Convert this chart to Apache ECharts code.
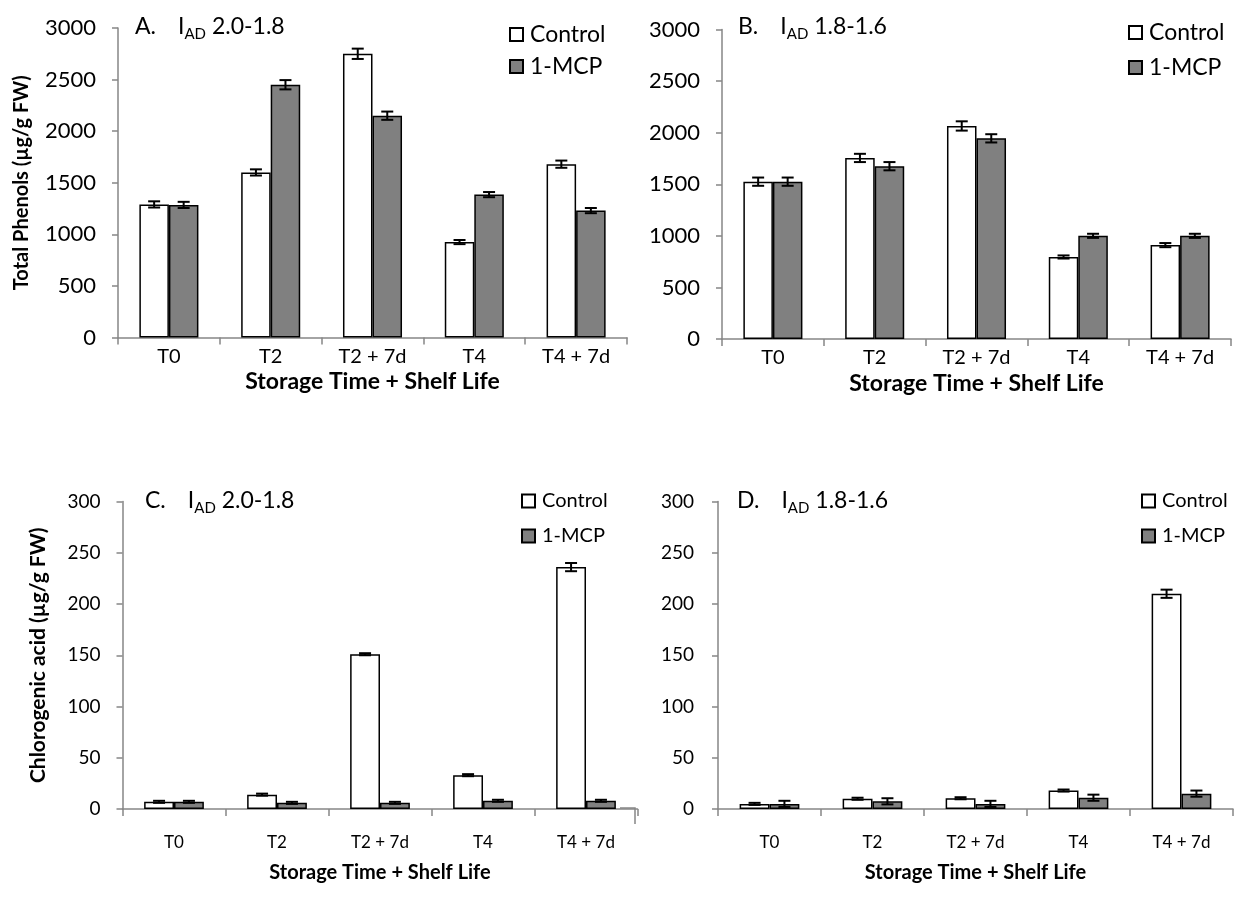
<!DOCTYPE html>
<html><head><meta charset="utf-8">
<script src="https://cdn.jsdelivr.net/npm/echarts@6/dist/echarts.min.js"></script>
<style>html,body{margin:0;padding:0;background:#fff}#c{width:1253px;height:900px}</style>
</head><body><div id="c"></div>
<script>
const categories = ['T0', 'T2', 'T2 + 7d', 'T4', 'T4 + 7d'];
const seriesNames = ['Control', '1-MCP'];

const aControl = [1290, 1600, 2750, 925, 1680];
const aControlErr = [30, 30, 50, 20, 35];
const aMcp = [1285, 2450, 2150, 1385, 1230];
const aMcpErr = [30, 45, 40, 25, 25];

const bControl = [1525, 1755, 2065, 795, 910];
const bControlErr = [40, 40, 45, 15, 20];
const bMcp = [1525, 1675, 1945, 1000, 1000];
const bMcpErr = [40, 40, 40, 20, 20];

const cControl = [7, 14, 151, 33, 236];
const cControlErr = [1, 1, 1, 1, 4];
const cMcp = [7, 6, 6, 8, 8];
const cMcpErr = [1, 1, 1, 1, 1];

const dControl = [5, 10, 10.5, 18, 210];
const dControlErr = [1, 1, 1, 1, 4];
const dMcp = [5, 7.5, 5, 11, 15];
const dMcpErr = [3, 3, 3, 3, 3];

const topTicks = [0, 500, 1000, 1500, 2000, 2500, 3000];
const bottomTicks = [0, 50, 100, 150, 200, 250, 300];

const FONT = 'Lato, "Open Sans", sans-serif';
const AXIS_COLOR = '#868686';
const CAT_GAP = 0.42;

const panels = [
  { letter: 'A.', range: '2.0-1.8', ctrl: aControl, ctrlErr: aControlErr, mcp: aMcp, mcpErr: aMcpErr, ticks: topTicks,
    grid: { left: 118, top: 28, width: 509, height: 309.5 }, yName: 'Total Phenols (\u00b5g/g FW)', yNameGap: 86, yNameSize: 20,
    labelSize: 22, catSize: 20, titleX: 135, titleY: 12, legend: { left: 509, top: 23 }, legSize: 23, legGap: 9,
    xNameSize: 23, xNameGap: 33, xLabelMargin: 9, yLabelMargin: 22 },
  { letter: 'B.', range: '1.8-1.6', ctrl: bControl, ctrlErr: bControlErr, mcp: bMcp, mcpErr: bMcpErr, ticks: topTicks,
    grid: { left: 722, top: 29.5, width: 509, height: 309.5 }, yName: '', yNameGap: 80, yNameSize: 20,
    labelSize: 22, catSize: 20, titleX: 738, titleY: 12, legend: { left: 1128, top: 21 }, legSize: 23, legGap: 12,
    xNameSize: 23, xNameGap: 33, xLabelMargin: 9, yLabelMargin: 22 },
  { letter: 'C.', range: '2.0-1.8', ctrl: cControl, ctrlErr: cControlErr, mcp: cMcp, mcpErr: cMcpErr, ticks: bottomTicks,
    grid: { left: 122.5, top: 501.5, width: 515, height: 307.5 }, yName: 'Chlorogenic acid (\u00b5g/g FW)', yNameGap: 74, yNameSize: 21,
    labelSize: 19, catSize: 17, titleX: 145, titleY: 486, legend: { left: 521, top: 491 }, legSize: 20, legGap: 15,
    xNameSize: 20, xNameGap: 54, xLabelMargin: 25, yLabelMargin: 22 },
  { letter: 'D.', range: '1.8-1.6', ctrl: dControl, ctrlErr: dControlErr, mcp: dMcp, mcpErr: dMcpErr, ticks: bottomTicks,
    grid: { left: 718, top: 501.5, width: 515, height: 307.5 }, yName: '', yNameGap: 76, yNameSize: 21,
    labelSize: 19, catSize: 17, titleX: 737, titleY: 486, legend: { left: 1141, top: 491 }, legSize: 20, legGap: 15,
    xNameSize: 20, xNameGap: 54, xLabelMargin: 25, yLabelMargin: 24 }
];

function errorSeries(idx, values, errs, side) {
  return {
    type: 'custom', xAxisIndex: idx, yAxisIndex: idx, z: 5, silent: true,
    data: values.map((v, i) => [i, v, errs[i]]),
    encode: { x: 0, y: 1 },
    renderItem: function (params, api) {
      const i = api.value(0), v = api.value(1), e = api.value(2);
      const catW = api.size([1, 0])[0];
      const barW = catW * (1 - CAT_GAP) / 2;
      const off = side * barW / 2;
      const hi = api.coord([i, v + e]);
      const lo = api.coord([i, v - e]);
      const x = hi[0] + off;
      const cap = 6;
      const style = { stroke: '#000', lineWidth: 2 };
      return { type: 'group', children: [
        { type: 'line', shape: { x1: x, y1: hi[1], x2: x, y2: lo[1] }, style: style },
        { type: 'line', shape: { x1: x - cap, y1: hi[1], x2: x + cap, y2: hi[1] }, style: style },
        { type: 'line', shape: { x1: x - cap, y1: lo[1], x2: x + cap, y2: lo[1] }, style: style }
      ]};
    }
  };
}

const option = {
  backgroundColor: '#fff',
  animation: false,
  textStyle: { fontFamily: FONT },
  title: [], legend: [], grid: [], xAxis: [], yAxis: [], series: [],
  graphic: [{ type: 'polyline', silent: true, shape: { points: [[620, 808], [635, 808], [635, 824]] },
              style: { stroke: AXIS_COLOR, lineWidth: 1.5, fill: null } }]
};

panels.forEach((p, idx) => {
  option.grid.push(Object.assign({ containLabel: false }, p.grid));
  const base = { fontFamily: FONT, color: '#000', fontWeight: 'normal' };
  option.title.push({
    text: '{a|' + p.letter + '}{b|I}{s|AD}{b| ' + p.range + '}',
    left: p.titleX, top: p.titleY, padding: 0,
    textStyle: { fontWeight: 'normal', rich: {
      a: Object.assign({ fontSize: 23, lineHeight: 30, padding: [0, 22, 0, 0] }, base),
      b: Object.assign({ fontSize: 23, lineHeight: 30 }, base),
      s: Object.assign({ fontSize: 15, lineHeight: 15, verticalAlign: 'bottom' }, base)
    } }
  });
  option.legend.push({
    orient: 'vertical', left: p.legend.left, top: p.legend.top, padding: 0,
    data: seriesNames, icon: 'rect', itemWidth: 13, itemHeight: 13, itemGap: p.legGap,
    textStyle: { fontSize: p.legSize, fontFamily: FONT, color: '#000', lineHeight: p.legSize, padding: [0, 0, 0, 2] },
    selectedMode: false
  });
  option.xAxis.push({
    type: 'category', gridIndex: idx, data: categories,
    name: 'Storage Time + Shelf Life', nameLocation: 'middle', nameGap: p.xNameGap,
    nameTextStyle: { fontSize: p.xNameSize, fontWeight: 'bold', fontFamily: FONT, color: '#000' },
    axisLine: { show: true, lineStyle: { color: AXIS_COLOR, width: 1.5 } },
    axisTick: { show: true, length: 7, lineStyle: { color: AXIS_COLOR, width: 1.5 } },
    axisLabel: { fontSize: p.catSize, fontFamily: FONT, color: '#000', margin: p.xLabelMargin, interval: 0 },
    splitLine: { show: false }
  });
  option.yAxis.push({
    type: 'value', gridIndex: idx, min: 0, max: p.ticks[p.ticks.length - 1], interval: p.ticks[1] - p.ticks[0],
    name: p.yName, nameLocation: 'middle', nameGap: p.yNameGap, nameRotate: 90,
    nameTextStyle: { fontSize: p.yNameSize, fontWeight: 'bold', fontFamily: FONT, color: '#000' },
    axisLine: { show: true, lineStyle: { color: AXIS_COLOR, width: 1.5 } },
    axisTick: { show: true, length: 6, lineStyle: { color: AXIS_COLOR, width: 1.5 } },
    axisLabel: { fontSize: p.labelSize, fontFamily: FONT, color: '#000', margin: p.yLabelMargin,
                 formatter: function (v) { return String(v); } },
    splitLine: { show: false }
  });
  option.series.push({
    name: 'Control', type: 'bar', xAxisIndex: idx, yAxisIndex: idx, data: p.ctrl,
    barGap: '0%', barCategoryGap: (CAT_GAP * 100) + '%',
    itemStyle: { color: '#ffffff', borderColor: '#000', borderWidth: 1.5 }
  });
  option.series.push({
    name: '1-MCP', type: 'bar', xAxisIndex: idx, yAxisIndex: idx, data: p.mcp,
    barGap: '0%', barCategoryGap: (CAT_GAP * 100) + '%',
    itemStyle: { color: '#808080', borderColor: '#000', borderWidth: 1.5 }
  });
  option.series.push(errorSeries(idx, p.ctrl, p.ctrlErr, -1));
  option.series.push(errorSeries(idx, p.mcp, p.mcpErr, 1));
});

const chart = echarts.init(document.getElementById('c'), null, { renderer: 'canvas' });
chart.setOption(option);
</script>
</body></html>
